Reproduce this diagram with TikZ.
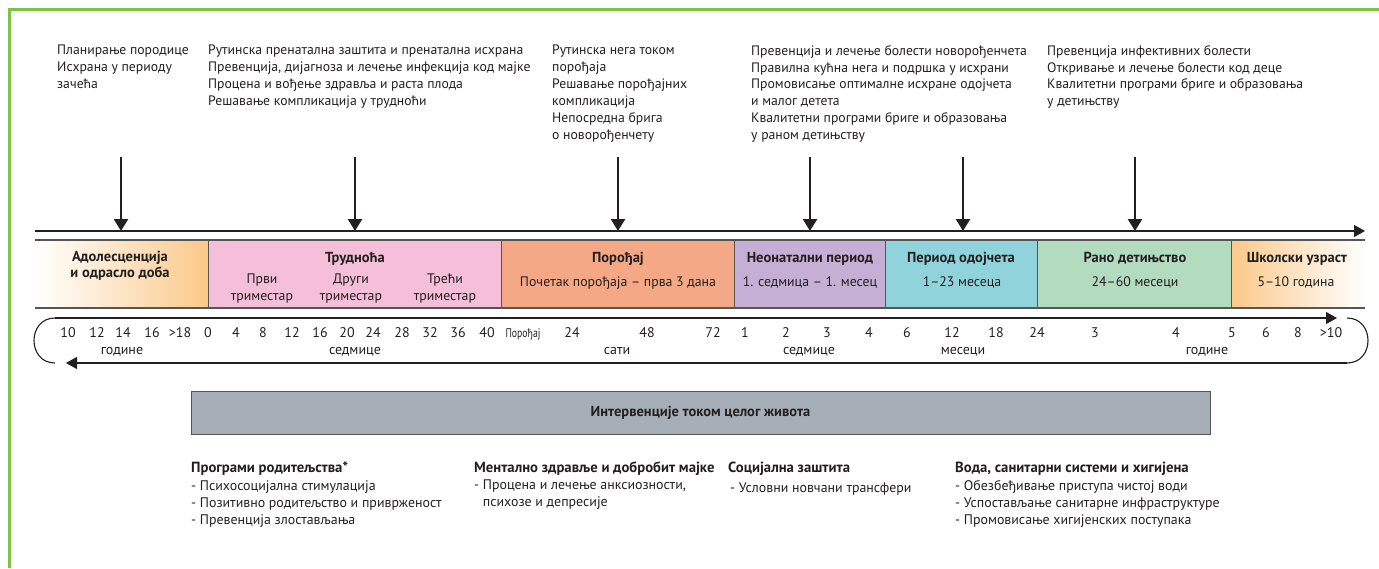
\documentclass[tikz,border=0pt]{standalone}
\usepackage{fontspec}
\setmainfont{PT Sans}
\usepackage{graphicx}
\usepackage{xcolor}
\usetikzlibrary{arrows.meta}
\definecolor{frame}{HTML}{7DC242}
\definecolor{ink}{HTML}{231F20}
\definecolor{edge}{HTML}{555555}
\definecolor{ora}{HTML}{FBC98A}
\definecolor{pnk}{HTML}{F5BFD9}
\definecolor{salm}{HTML}{F5A886}
\definecolor{lav}{HTML}{C6AFD4}
\definecolor{cyn}{HTML}{91D3DA}
\definecolor{mint}{HTML}{B3DBC0}
\definecolor{gbox}{HTML}{A6AFB7}

\begin{document}
\begin{tikzpicture}[x=1pt,y=-1pt,
			t/.style={font=\fontsize{13.7}{16.9}\selectfont,anchor=north west,align=left,inner sep=0pt,text=ink,execute at begin node=\strut},
			it/.style={font=\fontsize{13.9}{17}\selectfont,anchor=north west,align=left,inner sep=0pt,text=ink,execute at begin node=\strut},
			h/.style={font=\fontsize{14.7}{17}\selectfont\bfseries,anchor=base west,inner sep=0pt,text=ink},
			ttl/.style={font=\fontsize{14.5}{16.5}\selectfont\bfseries,anchor=north,align=center,inner sep=0pt,text=ink,execute at begin node=\strut},
			sub/.style={font=\fontsize{13.8}{17}\selectfont,anchor=north,align=center,inner sep=0pt,text=ink,execute at begin node=\strut},
			num/.style={font=\fontsize{14}{16}\selectfont,anchor=base,inner sep=0pt,text=ink},
			dn/.style={ink,line width=2.4pt,-{Triangle[width=14pt,length=12pt]}},
			ax/.style={ink,line width=1.1pt,-{Triangle[width=12pt,length=11pt]}},
			ln/.style={ink,line width=1.1pt}]
				\useasboundingbox (0,0) rectangle (1379,568);
				\draw[frame,line width=3pt] (9,568) -- (9,9) -- (1379,9);
				\node[t] (b1) at (57,45) {Планирање породице\\Исхрана у периоду\\зачећа};
				\node[t] (b2) at (208,45) {Рутинска пренатална заштита и пренатална исхрана\\Превенција, дијагноза и лечење инфекција код мајке\\Процена и вођење здравља и раста плода\\Решавање компликација у трудноћи};
				\node[t] (b3) at (552,45) {Рутинска нега током\\порођаја\\Решавање порођајних\\компликација\\Непосредна брига\\о новорођенчету};
				\node[t] (b4) at (751,45) {Превенција и лечење болести новорођенчета\\Правилна кућна нега и подршка у исхрани\\Промовисање оптималне исхране одојчета\\и малог детета\\Квалитетни програми бриге и образовања\\у раном детињству};
				\node[t] (b5) at (1047,45) {Превенција инфективних болести\\Откривање и лечење болести код деце\\Квалитетни програми бриге и образовања\\у детињству};
				\shade[left color=white,right color=ora] (35,240) rectangle (208,308);
				\fill[pnk] (208,240) rectangle (501,308);
				\fill[salm] (501,240) rectangle (734,308);
				\fill[lav] (734,240) rectangle (885,308);
				\fill[cyn] (885,240) rectangle (1037,308);
				\fill[mint] (1037,240) rectangle (1231,308);
				\shade[left color=ora,right color=white] (1231,240) rectangle (1365,308);
				\draw[edge,line width=1.3pt] (35,240) -- (1365,240) (35,308) -- (1365,308);
				\foreach \x in {208,501,734,885,1037,1231}
					\draw[edge,line width=0.9pt] (\x,240) -- (\x,308);
				\coordinate (ax0) at (35,231);
				\coordinate (ax1) at (1365,231);
				\draw[ax] (ax0) -- (ax1);
				\foreach \x [count=\i] in {121,355,618,810,963,1135}{
					\coordinate (up\i) at (\x,157);
					\coordinate (dn\i) at (\x,231);
					\draw[dn] (up\i) -- (dn\i);
				}
				\node[ttl] (adol) at (120,250.5) {Адолесценција\\и одрасло доба};
				\node[ttl] (preg) at (355,250.5) {Трудноћа};
				\node[sub] (tr1) at (262,274) {Први\\триместар};
				\node[sub] (tr2) at (351,274) {Други\\триместар};
				\node[sub] (tr3) at (445,274) {Трећи\\триместар};
				\node[ttl] (birth) at (618,250.5) {Порођај};
				\node[sub] (birthx) at (618,274) {Почетак порођаја – прва 3 дана};
				\node[ttl] (neo) at (810,250.5) {Неонатални период};
				\node[sub] (neox) at (810,274) {1. седмица – 1. месец};
				\node[ttl] (inf) at (961,250.5) {Период одојчета};
				\node[sub] (infx) at (962,274) {1–23 месеца};
				\node[ttl] (early) at (1135,250.5) {Рано детињство};
				\node[sub] (earlyx) at (1135,274) {24–60 месеци};
				\node[ttl] (school) at (1297,250.5) {Школски узраст};
				\node[sub] (schoolx) at (1296,274) {5–10 година};
				\coordinate (sc0) at (55,318);
				\coordinate (sc1) at (1337,318);
				\coordinate (rc0) at (1347,318);
				\coordinate (rc1) at (1347,363);
				\coordinate (lc0) at (55,363);
				\coordinate (lw1) at (66,363);
				\draw[ax] (sc0) -- (sc1);
				\draw[ln] (rc0) .. controls (1375,318) and (1375,363) .. (rc1);
				\draw[ax] (rc1) -- (lw1);
				\draw[ln] (sc0) .. controls (27,318) and (27,363) .. (lc0);
				\foreach \x/\v [count=\i] in {68/10,97/12,123/14,152/16,180/{>18},208/0,236/4,263/8,292/12,320/16,347/20,373/24,402/28,430/32,458/36,487/40,572/24,647/48,713/72,745/1,786/2,827/3,869/4,907/6,952/12,996/18,1037/24,1095/3,1176/4,1232/5,1266/6,1298/8,1331/{>10}}
					\node[num] (n\i) at (\x,337) {\v};
				\node[num] (n0) at (523,337) {\scalebox{0.78}[1]{\fontsize{12.5}{14}\selectfont Порођај}};
				\foreach \x/\v [count=\i] in {122/године,355/седмице,617/сати,809/седмице,963/месеци,1207/године}
					\node[num] (u\i) at (\x,354) {\v};
				\node[draw=edge,fill=gbox,line width=1pt,minimum width=1019pt,minimum height=43pt,inner sep=0pt,font=\fontsize{14.5}{16}\selectfont\bfseries,text=ink] (life) at (700.5,412.5) {Интервенције током целог живота};
				\node[h] (p0) at (191,472) {Програми родитељства*};
				\node[it] (p1) at (191,480) {- Психосоцијална стимулација\\- Позитивно родитељство и приврженост\\- Превенција злостављања};
				\node[h] (m0) at (474,472) {Ментално здравље и добробит мајке};
				\node[it] (m1) at (474,480) {- Процена и лечење анксиозности,\\\phantom{- }психозе и депресије};
				\node[h] (s0) at (728,472) {Социјална заштита};
				\node[it] (s1) at (730,480) {- Условни новчани трансфери};
				\node[h] (w0) at (955,472) {Вода, санитарни системи и хигијена};
				\node[it] (w1) at (955,480) {- Обезбеђивање приступа чистој води\\- Успостављање санитарне инфраструктуре\\- Промовисање хигијенских поступака};
			\end{tikzpicture}
\end{document}
